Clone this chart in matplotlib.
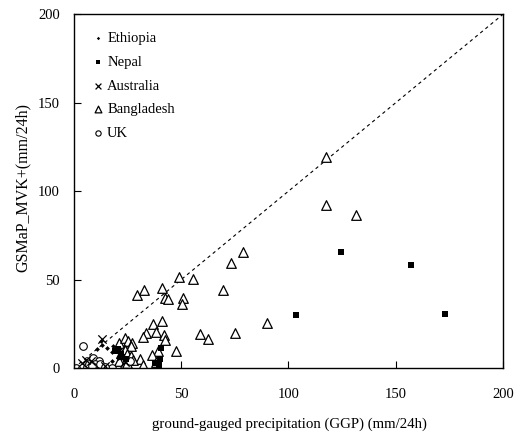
import matplotlib
matplotlib.use("Agg")
import matplotlib.pyplot as plt

# Ground-gauged precipitation (x) vs. GSMaP_MVK+ estimate (y), mm/24h
ethiopia_x = [10.6, 13.1, 15.4, 18.0, 12.6, 17.6, 20.7, 17.9]
ethiopia_y = [10.7, 13.0, 11.5, 12.6, 15.3, 9.2, 5.7, 4.0]

nepal_x = [124.3, 157.1, 172.8, 103.6, 40.7, 40.3, 39.5, 37.6, 19.3, 21.8, 24.3, 22.5, 20.5]
nepal_y = [65.8, 58.4, 30.5, 30.0, 11.5, 5.3, 1.9, 2.6, 9.8, 8.1, 4.9, 6.0, 10.5]

australia_x = [12.9, 3.6, 5.5, 14.5, 24.0, 8.0]
australia_y = [16.4, 3.0, 4.5, 1.0, 3.5, 4.0]

bangladesh_x = [117.3, 117.3, 131.3, 78.7, 73.1, 69.5, 90.2, 75.0, 58.9, 62.5,
                55.5, 49.0, 50.9, 50.4, 41.1, 42.5, 44.0, 29.4, 32.8, 47.7,
                41.2, 36.9, 33.6, 38.3, 32.4, 42.0, 42.6, 39.2, 36.4, 38.1,
                30.8, 32.2, 21.2, 24.0, 25.3, 27.2, 26.7, 21.8, 24.0, 24.6,
                26.6, 27.7, 21.2, 23.0, 24.6]
bangladesh_y = [119.1, 92.2, 86.5, 65.4, 59.2, 43.9, 25.4, 20.0, 19.4, 16.4,
                50.1, 51.3, 39.8, 36.4, 45.1, 39.6, 38.8, 41.1, 43.9, 9.8,
                26.6, 24.9, 20.0, 20.5, 17.3, 18.8, 15.6, 9.6, 7.5, 3.4,
                5.1, 1.5, 14.1, 17.0, 15.1, 13.9, 12.6, 8.7, 10.2, 7.9,
                6.8, 4.5, 3.8, 0.4, 3.0]

uk_x = [4.2, 0.9, 6.2, 9.0, 11.5, 7.2, 10.0, 12.1, 17.6, 14.6, 26.0, 8.5]
uk_y = [12.6, 0.0, 0.8, 5.5, 4.1, 2.3, 2.3, 2.3, 0.0, 0.4, 4.0, 1.0]

x_ticks = [0, 50, 100, 150, 200]
y_ticks = [0, 50, 100, 150, 200]

plt.rcParams["font.family"] = ["Liberation Serif", "DejaVu Serif"]

fig = plt.figure(figsize=(5.24, 4.32), dpi=100)
ax = fig.add_axes([0.141, 0.148, 0.819, 0.819])

# 1:1 reference line
ax.plot([0, 200], [0, 200], color="black", lw=0.8, ls=(0, (3, 3)), zorder=1)

ax.scatter(ethiopia_x, ethiopia_y, marker="D", s=6, color="black",
           linewidths=0, label="Ethiopia", zorder=3)
ax.scatter(nepal_x, nepal_y, marker="s", s=14, color="black",
           linewidths=0, label="Nepal", zorder=3)
ax.scatter(australia_x, australia_y, marker="x", s=36, color="black",
           linewidths=0.9, label="Australia", zorder=3)
ax.scatter(bangladesh_x, bangladesh_y, marker="^", s=48, facecolors="white",
           edgecolors="black", linewidths=0.9, label="Bangladesh", zorder=2)
ax.scatter(uk_x, uk_y, marker="o", s=30, facecolors="white",
           edgecolors="black", linewidths=0.8, label="UK", zorder=2)

ax.set_xlim(0, 200)
ax.set_ylim(0, 200)
ax.set_xticks(x_ticks)
ax.set_yticks(y_ticks)
ax.tick_params(direction="in", length=5, width=0.8, labelsize=10.5)
ax.tick_params(axis="x", pad=14)
ax.tick_params(axis="y", pad=10)
for s in ax.spines.values():
    s.set_linewidth(1.0)

ax.set_xlabel("ground-gauged precipitation (GGP) (mm/24h)", fontsize=10.7)
ax.set_ylabel("GSMaP_MVK+(mm/24h)", fontsize=11.5)
ax.xaxis.set_label_coords(0.503, -0.14)
ax.yaxis.set_label_coords(-0.10, 0.51)

leg = ax.legend(loc="upper left", frameon=False, fontsize=10.5,
                bbox_to_anchor=(0.008, 0.987), handletextpad=0.15,
                labelspacing=0.72, markerscale=0.7, handlelength=1.0)

fig.savefig("out.png", dpi=100)
